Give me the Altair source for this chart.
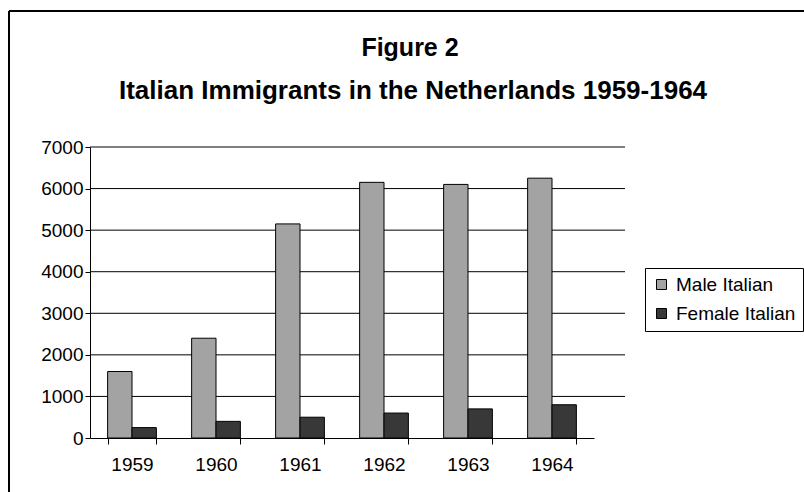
import altair as alt
import pandas as pd

years = ["1959", "1960", "1961", "1962", "1963", "1964"]
male = [1600, 2400, 5150, 6150, 6100, 6250]
female = [250, 400, 500, 600, 700, 800]
series = ["Male Italian", "Female Italian"]
y_ticks = [0, 1000, 2000, 3000, 4000, 5000, 6000, 7000]
title_text = "Figure 2"
subtitle_text = "Italian Immigrants in the Netherlands 1959-1964"

rows = []
for y, m, f in zip(years, male, female):
    rows.append({"year": y, "series": series[0], "value": m})
    rows.append({"year": y, "series": series[1], "value": f})
df = pd.DataFrame(rows)

FONT = "Liberation Sans"
yscale = alt.Scale(domain=[0, 7000])
yaxis = alt.Axis(values=y_ticks, format="d", labelFontSize=19, labelFont=FONT,
                 labelColor="black", domainColor="black", tickColor="black",
                 grid=False, tickSize=5, labelPadding=2)

grid = alt.Chart(pd.DataFrame({"v": y_ticks[1:]})).mark_rule(color="black", strokeWidth=1).encode(
    y=alt.Y("v:Q", scale=yscale, axis=yaxis, title=None),
    x=alt.value(0), x2=alt.value(535),
)

bars = alt.Chart(df).mark_bar(stroke="black", strokeWidth=1).encode(
    x=alt.X("year:N", sort=years, title=None,
            scale=alt.Scale(paddingInner=0.42, paddingOuter=0.21),
            axis=alt.Axis(labelAngle=0, labelFontSize=19, labelFont=FONT, labelColor="black",
                          domainColor="black", tickColor="black", tickBand="extent",
                          labelPadding=11, tickSize=6, grid=False)),
    xOffset=alt.XOffset("series:N", sort=series),
    y=alt.Y("value:Q", title=None, scale=yscale, axis=yaxis),
    fill=alt.Color("series:N", sort=series,
                   scale=alt.Scale(domain=series, range=["#a3a3a3", "#383838"]),
                   legend=alt.Legend(title=None, orient="none", legendX=555, legendY=121,
                                     labelFontSize=19, labelFont=FONT, labelColor="black",
                                     symbolType="square", symbolSize=100, symbolStrokeColor="black",
                                     symbolStrokeWidth=1, strokeColor="black", padding=7,
                                     rowPadding=9, labelOffset=5, labelLimit=200)),
)

frame_top = alt.Chart(pd.DataFrame({"a": [0]})).mark_rule(color="black", strokeWidth=2).encode(
    x=alt.value(-81), x2=alt.value(714), y=alt.value(-136))
frame_left = alt.Chart(pd.DataFrame({"a": [0]})).mark_rule(color="black", strokeWidth=2).encode(
    x=alt.value(-81), y=alt.value(-136), y2=alt.value(345))

t1 = alt.Chart(pd.DataFrame({"t": [title_text]})).mark_text(
    font=FONT, fontSize=25, fontWeight="bold", color="black", align="center", baseline="alphabetic"
).encode(text="t:N", x=alt.value(320), y=alt.value(-91))
t2 = alt.Chart(pd.DataFrame({"t": [subtitle_text]})).mark_text(
    font=FONT, fontSize=26, fontWeight="bold", color="black", align="center", baseline="alphabetic"
).encode(text="t:N", x=alt.value(323), y=alt.value(-48))

chart = alt.layer(frame_top, frame_left, t1, t2, grid, bars).properties(
    width=504, height=291,
    padding={"left": 90, "top": 147, "right": 210, "bottom": 54},
    autosize=alt.AutoSizeParams(type="none"),
).configure(background="white").configure_view(stroke="transparent", strokeWidth=0)

chart.save("out.html", embed_options={"renderer": "svg", "actions": False})
